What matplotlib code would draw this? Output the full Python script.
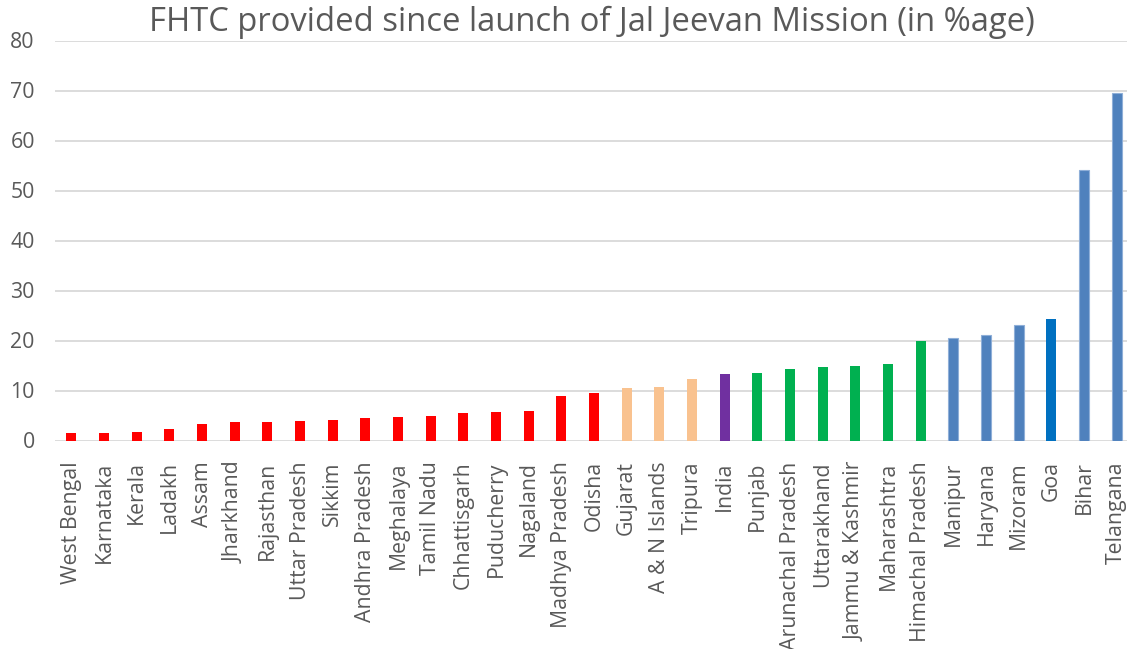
import matplotlib
matplotlib.use('Agg')
import matplotlib.pyplot as plt

plt.rcParams['font.family'] = ['Open Sans', 'DejaVu Sans']

states = ['West Bengal', 'Karnataka', 'Kerala', 'Ladakh', 'Assam', 'Jharkhand',
          'Rajasthan', 'Uttar Pradesh', 'Sikkim', 'Andhra Pradesh', 'Meghalaya',
          'Tamil Nadu', 'Chhattisgarh', 'Puducherry', 'Nagaland', 'Madhya Pradesh',
          'Odisha', 'Gujarat', 'A & N Islands', 'Tripura', 'India', 'Punjab',
          'Arunachal Pradesh', 'Uttarakhand', 'Jammu & Kashmir', 'Maharashtra',
          'Himachal Pradesh', 'Manipur', 'Haryana', 'Mizoram', 'Goa', 'Bihar',
          'Telangana']
fhtc_pct = [1.5, 1.5, 1.7, 2.3, 3.3, 3.7, 3.7, 3.9, 4.1, 4.5, 4.7, 4.9, 5.5,
            5.7, 5.9, 8.9, 9.5, 10.5, 10.7, 12.3, 13.3, 13.5, 14.3, 14.7, 14.9,
            15.3, 19.9, 20.6, 21.1, 23.1, 24.3, 54.1, 69.6]
groups = ['low'] * 17 + ['mid'] * 3 + ['india'] + ['high'] * 6 + ['top'] * 3 + ['goa'] + ['top'] * 2

group_colors = {'low': '#FF0000', 'mid': '#F9C28F', 'india': '#7030A0',
                'high': '#00B050', 'top': '#4F81BD', 'goa': '#0070C0'}
edge_colors = {'low': 'none', 'mid': 'none', 'india': 'none',
               'high': 'none', 'top': '#8FAFD8', 'goa': 'none'}

fig = plt.figure(figsize=(11.27, 6.49), dpi=100)
ax = fig.add_axes([55 / 1127, 1 - 440.5 / 649, 1078 / 1127, 400 / 649])

x = range(len(states))
ax.bar(x, fhtc_pct, width=0.31,
       color=[group_colors[g] for g in groups],
       edgecolor=[edge_colors[g] for g in groups], linewidth=0.8, zorder=3)

ax.set_xlim(-0.5, len(states) - 0.5)
ax.set_ylim(0, 80)
ax.set_yticks(range(0, 81, 10))
ax.grid(axis='y', color='#D9D9D9', linewidth=1.3, zorder=0)
for s in ax.spines.values():
    s.set_visible(False)
ax.tick_params(axis='both', length=0, colors='#595959', labelsize=15.3)
ax.tick_params(axis='y', pad=14.5)
ax.tick_params(axis='x', pad=15)
ax.set_xticks(list(x))
ax.set_xticklabels(states, rotation=90)

fig.text(0.525, 0.965, 'FHTC provided since launch of Jal Jeevan Mission (in %age)',
         ha='center', va='center', fontsize=23.6, color='#595959')

fig.savefig('out.png', dpi=100)
